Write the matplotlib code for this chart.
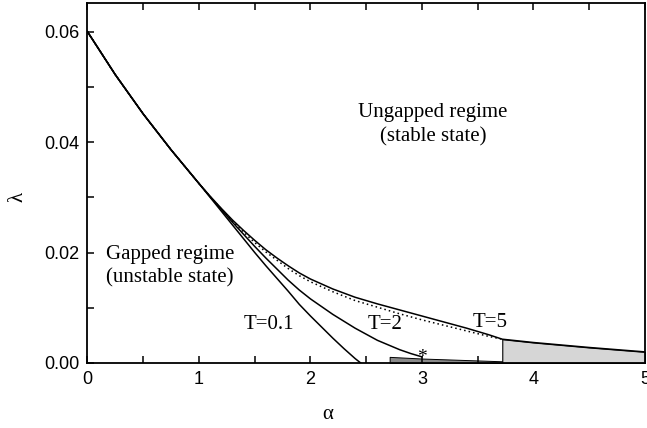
import numpy as np
import matplotlib
matplotlib.use("Agg")
import matplotlib.pyplot as plt
from matplotlib.ticker import MultipleLocator, FormatStrFormatter

# values
alpha_common = [0.0, 0.25, 0.5, 0.75, 1.0]
lam_common = [0.0600, 0.0522, 0.0451, 0.0386, 0.0325]

alpha_t01 = [1.1, 1.2, 1.3, 1.4, 1.5, 1.6, 1.7, 1.8, 1.9, 2.0, 2.1, 2.2, 2.3, 2.4, 2.45]
lam_t01 = [0.0300, 0.0275, 0.0250, 0.0225, 0.0200, 0.0176, 0.0153, 0.0130, 0.0106,
           0.0085, 0.0065, 0.0045, 0.0026, 0.0008, 0.0]

alpha_t2 = [1.1, 1.2, 1.3, 1.4, 1.5, 1.6, 1.7, 1.8, 1.9, 2.0, 2.2, 2.4, 2.6, 2.8, 2.9, 3.0]
lam_t2 = [0.0301, 0.0278, 0.0255, 0.0233, 0.0211, 0.0190, 0.0170, 0.0150, 0.0132,
          0.0116, 0.0088, 0.0063, 0.0041, 0.0024, 0.0017, 0.0011]

alpha_t5 = [1.1, 1.2, 1.3, 1.4, 1.5, 1.6, 1.7, 1.8, 1.9, 2.0, 2.2, 2.4, 2.6, 2.8, 3.0,
            3.2, 3.4, 3.6, 3.72, 4.0, 4.5, 5.0]
lam_t5 = [0.0302, 0.0280, 0.0259, 0.0240, 0.0222, 0.0205, 0.0190, 0.0176, 0.0163,
          0.0152, 0.0134, 0.0119, 0.0107, 0.0096, 0.0085, 0.0074, 0.0063, 0.0051,
          0.0043, 0.0037, 0.0028, 0.0020]

alpha_dot = [1.1, 1.2, 1.3, 1.4, 1.5, 1.6, 1.7, 1.8, 1.9, 2.0, 2.2, 2.4, 2.6, 2.8, 3.0,
             3.2, 3.4, 3.6, 3.72]
lam_dot = [0.0301, 0.0279, 0.0257, 0.0237, 0.0218, 0.0201, 0.0186, 0.0171, 0.0158,
           0.0147, 0.0129, 0.0113, 0.0101, 0.0089, 0.0078, 0.0068, 0.0058, 0.0048, 0.0043]

alpha_dark = [2.71, 3.0, 3.72, 5.0]
lam_dark = [0.0011, 0.0008, 0.0003, 0.0001]

alpha_c = 3.72
star = (3.0, 0.0010)

serif = "Liberation Serif"
sans = "Liberation Sans"

fig = plt.figure(figsize=(6.47, 4.28), dpi=100)
ax = fig.add_axes([0.1352, 0.152, 0.8617, 0.841])

# shaded regions
ax.fill_between(alpha_dark, 0, lam_dark, facecolor="#8a8a8a", edgecolor="k", lw=0.7, zorder=1)
i5 = alpha_t5.index(alpha_c)
ax.fill_between(alpha_t5[i5:], 0, lam_t5[i5:], facecolor="#d6d6d6", edgecolor="k", lw=0.8, zorder=2)

kw = dict(color="k", lw=1.1, zorder=3)
for a, l in [(alpha_t01, lam_t01), (alpha_t2, lam_t2), (alpha_t5, lam_t5)]:
    ax.plot(alpha_common + a, lam_common + l, **kw)
ax.plot(alpha_common + alpha_dot, lam_common + lam_dot, color="k", lw=1.1,
        ls=(0, (1, 2)), zorder=3)

ax.text(star[0], star[1], "*", fontsize=14, family=serif, ha="center", va="center", zorder=4)

ax.set_xlim(0, 5)
ax.set_ylim(0, 0.0652)
ax.xaxis.set_major_locator(MultipleLocator(1))
ax.xaxis.set_minor_locator(MultipleLocator(0.5))
ax.yaxis.set_major_locator(MultipleLocator(0.02))
ax.yaxis.set_minor_locator(MultipleLocator(0.01))
ax.yaxis.set_major_formatter(FormatStrFormatter("%.2f"))
ax.tick_params(which="both", direction="in", top=True, right=False, length=5, width=1.1)
ax.tick_params(which="major", labelsize=13, pad=6)
for lab in ax.get_xticklabels() + ax.get_yticklabels():
    lab.set_family(sans)
for s in ax.spines.values():
    s.set_linewidth(1.3)

ax.set_xlabel("α", family=serif, fontsize=15, labelpad=12, x=0.431)
ax.set_ylabel("λ", family=serif, fontsize=15, labelpad=12, y=0.461)

ax.text(3.1, 0.0431, "Ungapped regime\n(stable state)", family=serif, fontsize=15,
        ha="center", va="center", linespacing=1.35)
ax.text(0.74, 0.0175, "Gapped regime\n(unstable state)", family=serif, fontsize=15,
        ha="center", va="center", linespacing=1.35)
ax.text(1.63, 0.0069, "T=0.1", family=serif, fontsize=15, ha="center", va="center")
ax.text(2.67, 0.0069, "T=2", family=serif, fontsize=15, ha="center", va="center")
ax.text(3.61, 0.0074, "T=5", family=serif, fontsize=15, ha="center", va="center")

fig.savefig("out.png", dpi=100)
